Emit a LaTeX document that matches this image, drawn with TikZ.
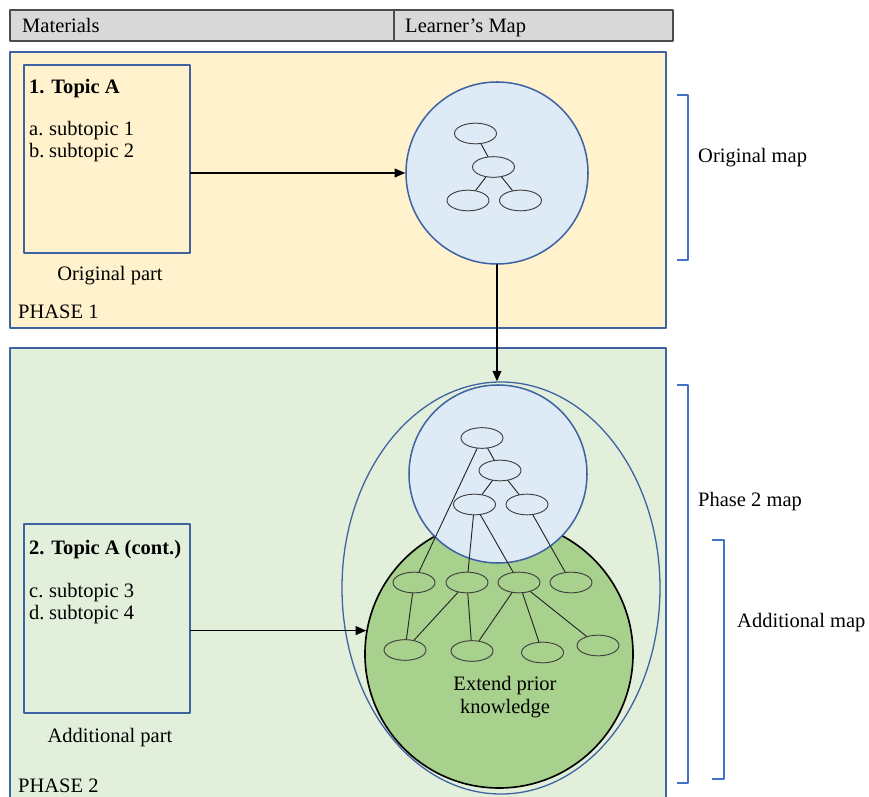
\documentclass[tikz,border=0pt]{standalone}
\usepackage{fontspec}
\setmainfont{Liberation Serif}
\usetikzlibrary{shapes.geometric,arrows.meta}
\definecolor{phaseone}{HTML}{FFF2CC}
\definecolor{phasetwo}{HTML}{E2EFDA}
\definecolor{mapblue}{HTML}{DEEBF7}
\definecolor{mapgreen}{HTML}{A9D18E}
\definecolor{edgeblue}{HTML}{3F62A3}
\definecolor{brkblue}{HTML}{4472C4}
\definecolor{hdrgray}{HTML}{D9D9D9}
\tikzset{
  lbl/.style={anchor=base west,inner sep=0pt},
  ctr/.style={anchor=base,inner sep=0pt},
  hdr/.style={draw=black!70,fill=hdrgray,line width=0.9pt},
  phase/.style={draw=edgeblue,line width=1.3pt},
  topic/.style={draw=edgeblue,line width=1.3pt,minimum width=4.98cm,minimum height=5.64cm,inner sep=0pt},
  leaf/.style={ellipse,draw=black!75,line width=0.8pt,minimum width=1.26cm,minimum height=0.62cm,inner sep=0pt},
  bracket/.style={draw=brkblue,line width=2pt,line cap=butt}
}
\begin{document}
\begin{tikzpicture}[x=0.03cm,y=-0.03cm,font=\fontsize{17.5}{19}\selectfont, line join=round, line cap=round, >={Triangle[length=9pt,width=7.5pt]}]
\useasboundingbox (0,0) rectangle (869,797);
% header row
\draw[hdr] (10,10) rectangle (394,41) (394,10) rectangle (673,41);
\node[lbl] (hmat) at (22,33) {Materials};
\node[lbl] (hmap) at (405,33) {Learner’s Map};
% phase panels
\draw[phase,fill=phaseone] (10,52) rectangle (666,328);
\draw[phase,fill=phasetwo] (10,348) rectangle (666,815);
\node[lbl] (ph1) at (18,319) {PHASE 1};
\node[lbl] (ph2) at (18,792) {PHASE 2};
% materials
\node[topic,fill=phaseone] (boxA) at (107,159) {};
\node[topic,fill=phasetwo,minimum height=5.67cm] (boxB) at (107,618.5) {};
\node[lbl,font=\fontsize{17.5}{19}\selectfont\bfseries] (tA) at (29,94) {1. Topic A};
\node[lbl,font=\fontsize{17.5}{19}\selectfont\bfseries] (tB) at (29,554) {2. Topic A (cont.)};
\foreach \n/\l/\t/\y in {sa/a./subtopic 1/136,sb/b./subtopic 2/158,sc/c./subtopic 3/597,sd/d./subtopic 4/619}
  \node[lbl] (\n) at (29,\y) {\makebox[17pt][l]{\l}\t};
\node[ctr] (partA) at (110,281) {Original part};
\node[ctr] (partB) at (110,742) {Additional part};
% learner's maps
\node[circle,draw=edgeblue,line width=1.3pt,fill=mapblue,minimum size=5.46cm] (mapA) at (497,173) {};
\node[ellipse,draw=edgeblue,line width=1.1pt,minimum width=9.54cm,minimum height=12.36cm] (mapB) at (501,588) {};
\node[circle,draw=black,line width=1.4pt,fill=mapgreen,minimum size=8.04cm] (prior) at (499,654) {};
\node[circle,draw=edgeblue,line width=1.3pt,fill=mapblue,minimum size=5.34cm] (mapC) at (498,474) {};
\node[ctr,align=center] (ext) at (505,713) {Extend prior\\knowledge};
% concept nodes
\path
(475.5,133.5) node[leaf] (a1) {}
(493.5,167) node[leaf] (a2) {}
(468,200.5) node[leaf] (a3) {}
(520.5,200.5) node[leaf] (a4) {}
(482,438) node[leaf] (t1) {}
(500,470.5) node[leaf] (t2) {}
(474.5,504.5) node[leaf] (t3) {}
(527,504.5) node[leaf] (t4) {}
(414,582.5) node[leaf] (g1) {}
(467,582.5) node[leaf] (g2) {}
(519,582.5) node[leaf] (g3) {}
(571,582.5) node[leaf] (g4) {}
(405,650) node[leaf] (h1) {}
(472,651) node[leaf] (h2) {}
(542.5,652.5) node[leaf] (h3) {}
(598,645.5) node[leaf] (h4) {}
;
\foreach \u/\v in {a1/a2,a2/a3,a2/a4,t1/t2,t2/t3,t2/t4,t1/g1,t3/g2,t3/g3,t4/g4,g1/h1,g2/h1,g2/h2,g3/h2,g3/h3,g3/h4}
  \draw[black!85,line width=0.8pt] (\u) -- (\v);
% arrows
\draw[->,line width=1.3pt] (boxA.east |- mapA.west) -- (mapA.west);
\draw[->,line width=1.3pt] (mapA.south) -- (mapA.south |- mapB.north);
\draw[->,line width=1.3pt] (boxB.east |- prior.170) -- (prior.170);
% brackets
\draw[bracket] (677,95) -- (688,95) -- (688,260) -- (677,260);
\draw[bracket] (677,385) -- (688,385) -- (688,783) -- (677,783);
\draw[bracket] (712,540) -- (724,540) -- (724,779) -- (712,779);
\node[lbl] (omap) at (698,163) {Original map};
\node[lbl] (pmap) at (698,506) {Phase 2 map};
\node[lbl] (amap) at (737,627) {Additional map};
\end{tikzpicture}
\end{document}
